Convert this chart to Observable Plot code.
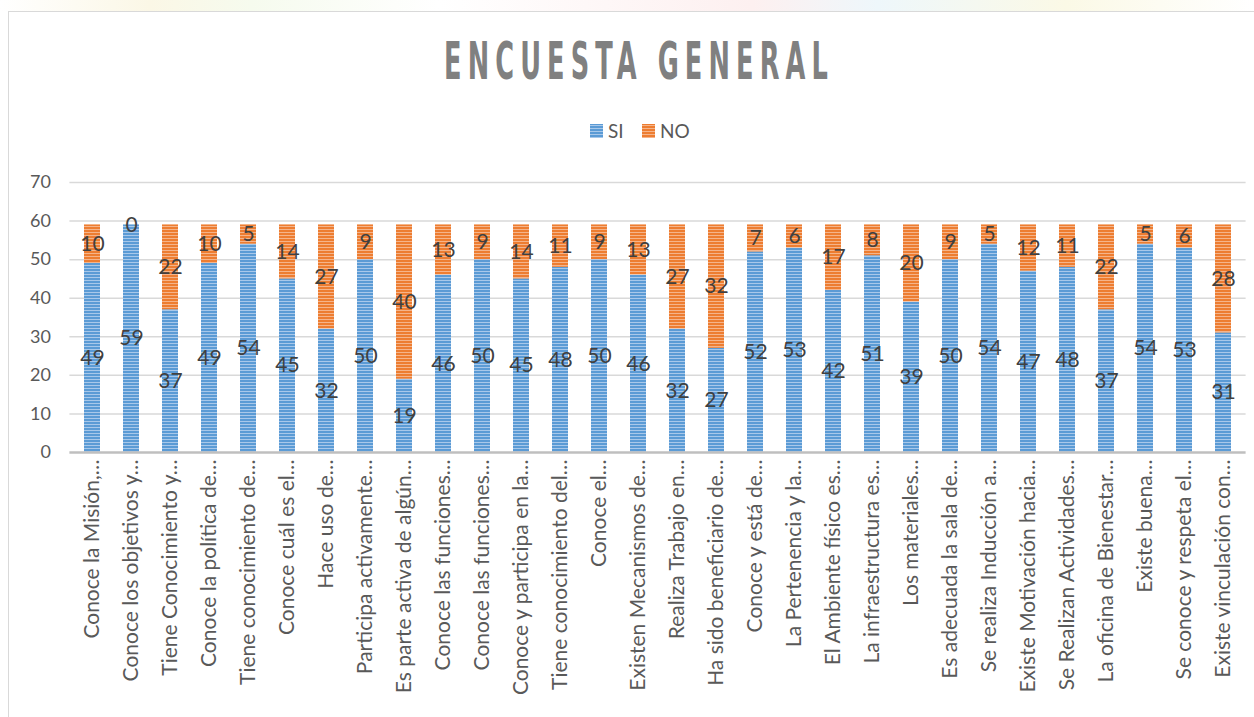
<!DOCTYPE html>
<html><head><meta charset="utf-8">
<script src="https://cdn.jsdelivr.net/npm/d3@7"></script>
<script src="https://cdn.jsdelivr.net/npm/@observablehq/plot@0.6"></script>
<style>
body{margin:0;background:#fff;}
#wrap{position:relative;width:1254px;height:717px;overflow:hidden;background:#fff;font-family:Lato,"Open Sans",sans-serif;}
#topstrip{position:absolute;left:0;top:0;width:1254px;height:11px;background:linear-gradient(90deg,#fff 0%,#fbf7e6 12%,#f6fbee 20%,#fff 35%,#fdf0f0 60%,#eef7fb 70%,#fbf9e6 85%,#fff 100%);}
#frame{position:absolute;left:8px;top:11px;width:1300px;height:800px;border:1.5px solid #d9d9d9;}
#title{position:absolute;left:0;top:0;}
#chart{position:absolute;left:0;top:170px;}
</style></head>
<body><div id="wrap"><div id="topstrip"></div><div id="frame"></div>
<svg id="title" width="1254" height="170"></svg>
<div id="chart"></div></div>
<script>
const categories = [
 "Conoce la Misión,…","Conoce los objetivos y…","Tiene Conocimiento y…","Conoce la política de…",
 "Tiene conocimiento de…","Conoce cuál es el…","Hace uso de…","Participa activamente…",
 "Es parte activa de algún…","Conoce las funciones…","Conoce las funciones…","Conoce y participa en la…",
 "Tiene conocimiento del…","Conoce el…","Existen Mecanismos de…","Realiza Trabajo en…",
 "Ha sido beneficiario de…","Conoce y está de…","La Pertenencia y la…","El Ambiente físico es…",
 "La infraestructura es…","Los materiales…","Es adecuada la sala de…","Se realiza Inducción a…",
 "Existe Motivación hacia…","Se Realizan Actividades…","La oficina de Bienestar…","Existe buena…",
 "Se conoce y respeta el…","Existe vinculación con…"];
const si = [49,59,37,49,54,45,32,50,19,46,50,45,48,50,46,32,27,52,53,42,51,39,50,54,47,48,37,54,53,31];
const no = [10,0,22,10,5,14,27,9,40,13,9,14,11,9,13,27,32,7,6,17,8,20,9,5,12,11,22,5,6,28];
const series = ["SI","NO"];
const yTicks = [0,10,20,30,40,50,60,70];
const titleText = "ENCUESTA GENERAL";

const rows = [];
categories.forEach((c,i)=>{
  rows.push({k:i, s:"SI", v:si[i]});
  rows.push({k:i, s:"NO", v:no[i]});
});

const defs = `<defs>
<pattern id="pSI" patternUnits="userSpaceOnUse" width="6" height="3"><rect width="6" height="3" fill="#5b9bd5"/><rect y="2" width="6" height="1" fill="#a8c8ea"/></pattern>
<pattern id="pNO" patternUnits="userSpaceOnUse" width="6" height="3"><rect width="6" height="3" fill="#ed7d31"/><rect y="2" width="6" height="1" fill="#f5b48a"/></pattern>
</defs>`;

// title + legend
const tsvg = d3.select("#title");
tsvg.html(defs);
tsvg.append("text").attr("x",444).attr("y",79).attr("text-anchor","start")
  .attr("textLength",390).attr("lengthAdjust","spacingAndGlyphs")
  .attr("font-family","DejaVu Sans Condensed, DejaVu Sans").attr("font-weight","bold")
  .attr("font-size",51).attr("fill","#808080").attr("letter-spacing",11).text(titleText);
const leg = [{s:"SI",x:590},{s:"NO",x:642}];
leg.forEach(l=>{
  tsvg.append("rect").attr("x",l.x).attr("y",124).attr("width",13).attr("height",14)
    .attr("fill", l.s==="SI"?"url(#pSI)":"url(#pNO)");
  tsvg.append("text").attr("x",l.x+18).attr("y",137.5).attr("font-family","Lato, sans-serif")
    .attr("font-size",19).attr("fill","#595959").text(l.s);
});

const chart = Plot.plot({
  width:1254, height:547,
  marginTop:12, marginBottom:265, marginLeft:69.4, marginRight:8.4,
  style:{fontFamily:"Lato, sans-serif", fontSize:"18px", color:"#595959", background:"transparent"},
  x:{domain:d3.range(categories.length), paddingInner:0.59, paddingOuter:0.295, tickFormat:i=>categories[i], tickSize:0, tickRotate:-90, tickPadding:7, label:null},
  y:{domain:[0,70], ticks:yTicks, tickSize:0, tickPadding:19, label:null, grid:false},
  color:{domain:series, range:["url(#pSI)","url(#pNO)"]},
  marks:[
    Plot.ruleY(yTicks.filter(d=>d>0), {stroke:"#d9d9d9", strokeWidth:1.5}),
    Plot.barY(rows, Plot.stackY({x:"k", y:"v", fill:"s", order:series})),
    Plot.ruleY([0], {stroke:"#bfbfbf", strokeWidth:2.5}),
    Plot.text(rows, Plot.stackY({x:"k", y:"v", z:"s", order:series, text:d=>String(d.v), fill:"#404040", fontSize:21}))
  ]
});
d3.select(chart).insert("g",":first-child").html(defs);
d3.select(chart).selectAll("g[aria-label='x-axis tick label'] text").style("font-size","21px");
document.getElementById("chart").appendChild(chart);
</script></body></html>
